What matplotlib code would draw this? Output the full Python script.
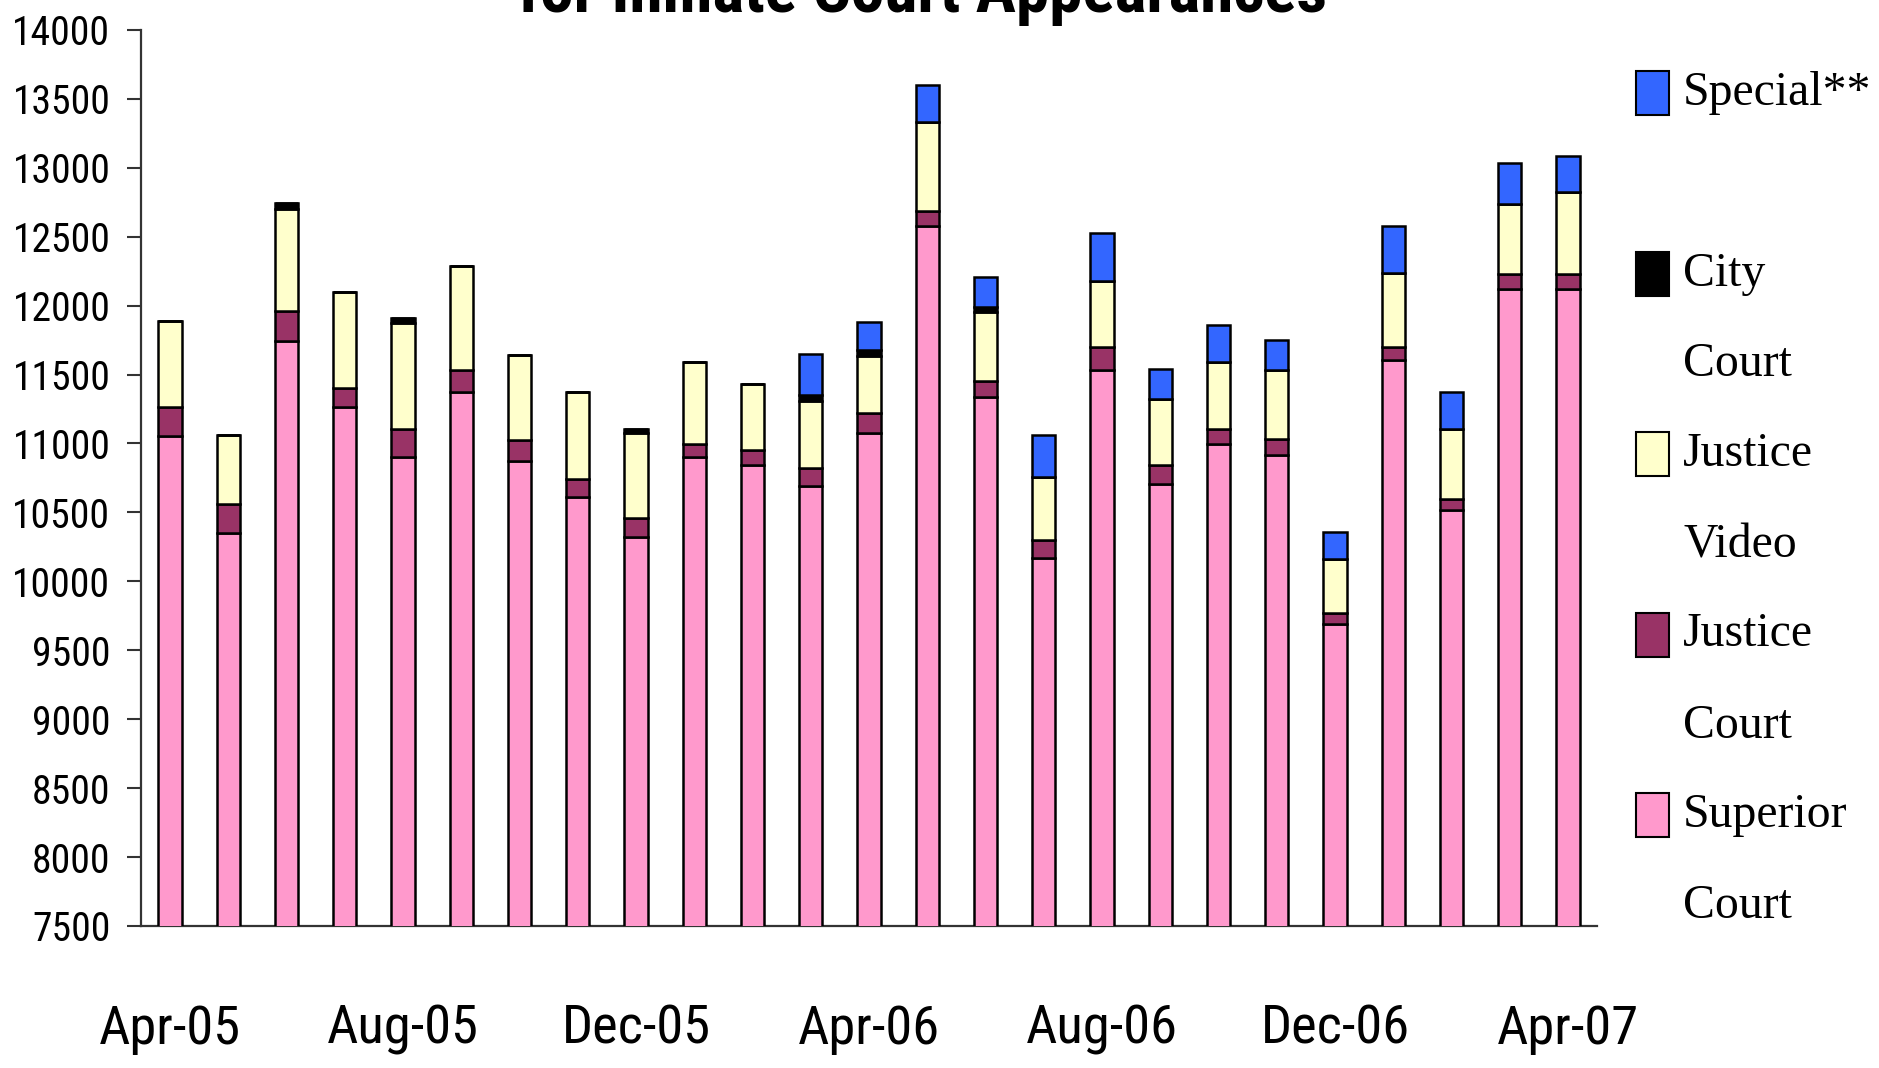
import numpy as np
import matplotlib
matplotlib.use('Agg')
import matplotlib.pyplot as plt
from matplotlib.patches import Rectangle
from matplotlib import font_manager
from matplotlib.font_manager import FontProperties

# Monthly inmate court appearances, Apr-05 .. Apr-07
months = ['Apr-05', 'May-05', 'Jun-05', 'Jul-05', 'Aug-05', 'Sep-05', 'Oct-05',
          'Nov-05', 'Dec-05', 'Jan-06', 'Feb-06', 'Mar-06', 'Apr-06', 'May-06',
          'Jun-06', 'Jul-06', 'Aug-06', 'Sep-06', 'Oct-06', 'Nov-06', 'Dec-06',
          'Jan-07', 'Feb-07', 'Mar-07', 'Apr-07']
superior_court = [11055, 10348, 11745, 11263, 10900, 11372, 10870, 10612, 10319,
                  10900, 10847, 10690, 11075, 12575, 11340, 10169, 11533, 10704,
                  10998, 10914, 9688, 11607, 10518, 12118, 12118]
justice_court = [213, 213, 216, 140, 207, 161, 157, 128, 137, 98, 103, 135, 144,
                 113, 116, 132, 164, 138, 109, 121, 84, 94, 79, 113, 113]
justice_video = [620, 498, 742, 695, 770, 753, 617, 636, 619, 590, 482, 486, 417,
                 645, 498, 457, 481, 477, 481, 498, 392, 532, 510, 505, 590]
city_court = [0, 0, 41, 0, 36, 0, 0, 0, 32, 0, 0, 44, 41, 0, 39, 0, 0, 0, 0, 0,
              0, 0, 0, 0, 0]
special = [0, 0, 0, 0, 0, 0, 0, 0, 0, 0, 0, 293, 207, 270, 214, 301, 349, 221,
           272, 216, 193, 347, 269, 296, 264]

series_colors = ['#FF99CC', '#993366', '#FFFFCC', '#000000', '#3366FF']
legend_labels = ['Special**', 'City\nCourt', 'Justice\nVideo', 'Justice\nCourt', 'Superior\nCourt']
label_months = ['Apr-05', 'Aug-05', 'Dec-05', 'Apr-06', 'Aug-06', 'Dec-06', 'Apr-07']
title_text = 'for Inmate Court Appearances'


def find_narrow_sans(bold=False):
    """Pick a narrow/condensed sans face if one is installed, else Liberation Sans."""
    good = []
    for f in font_manager.fontManager.ttflist:
        if f.style != 'normal':
            continue
        w = f.weight
        is_bold = w in ('bold', 'heavy') or (isinstance(w, int) and w >= 700)
        if is_bold != bold:
            continue
        if isinstance(w, int) and not bold and w not in (400, 500):
            continue
        name = f.name
        narrow = ('Narrow' in name or 'Condensed' in name or
                  str(f.stretch) in ('condensed', 'semi-condensed', 'extra-condensed'))
        if narrow and 'Serif' not in name and 'Mono' not in name and 'CJK' not in name:
            good.append(f)
    order = ['Liberation Sans Narrow', 'Roboto', 'Noto Sans', 'Open Sans', 'DejaVu']

    def rank(f):
        for i, o in enumerate(order):
            if f.name.startswith(o):
                return (i, str(f.stretch) != 'condensed')
        return (len(order), 0)
    if good:
        good.sort(key=rank)
        return FontProperties(fname=good[0].fname)
    return FontProperties(family='Liberation Sans', weight='bold' if bold else 'normal')


fig = plt.figure(figsize=(18.79, 10.68), dpi=100)
renderer = fig.canvas.get_renderer()


def fit_size(prop, text, width_px, height_px):
    # font size that makes the text about as wide (or tall) as in the reference
    p = prop.copy()
    p.set_size(40)
    w, h, d = renderer.get_text_width_height_descent(text, p, ismath=False)
    size = min(40 * width_px / w, 40 * height_px / max(h - d, 1))
    p.set_size(size)
    return p


sans = find_narrow_sans()
sans_bold = find_narrow_sans(bold=True)
serif = FontProperties(family=['Liberation Serif', 'DejaVu Serif'])

ytick_prop = fit_size(sans, '14000', 98, 34)
xtick_prop = fit_size(sans, 'Apr-05', 142, 47)
title_prop = fit_size(sans_bold, title_text, 809, 70)
legend_prop = fit_size(serif, 'Special**', 188, 48)

ax = fig.add_axes([0.075, 0.133, 0.775, 0.839])

x = np.arange(len(months))
bottom = np.zeros(len(months))
for vals, color in zip([superior_court, justice_court, justice_video, city_court, special],
                       series_colors):
    vals = np.array(vals, dtype=float)
    ax.bar(x, vals, 0.4, bottom=bottom, color=color, edgecolor='black',
           linewidth=1.8, zorder=3)
    bottom += vals

ax.set_ylim(7500, 14000)
ax.set_xlim(-0.5, len(months) - 0.5)
ax.set_yticks(np.arange(7500, 14001, 500))
ax.set_yticklabels([str(v) for v in range(7500, 14001, 500)], fontproperties=ytick_prop)

tick_pos = [months.index(m) for m in label_months]
ax.set_xticks(tick_pos)
ax.set_xticklabels(label_months, fontproperties=xtick_prop)
ax.tick_params(axis='x', length=0, pad=56)
ax.tick_params(axis='y', length=10, width=1.5, color='#333333', pad=12)

for side in ['top', 'right']:
    ax.spines[side].set_visible(False)
for side in ['left', 'bottom']:
    ax.spines[side].set_color('#333333')
    ax.spines[side].set_linewidth(1.6)

# title (its first line runs off the top of the picture, as in the source)
fig.text(0.491, 1 - 12 / 1068, title_text, ha='center', va='baseline',
         fontproperties=title_prop)

# legend drawn by hand to keep the wrapped layout
legend_colors = series_colors[::-1]
W, H = 1879.0, 1068.0
line_gap = 91
for i, (lab, col) in enumerate(zip(legend_labels, legend_colors)):
    yc = 93 + i * 180.5
    fig.patches.append(Rectangle((1636 / W, 1 - (yc + 22) / H), 33 / W, 44 / H,
                                 transform=fig.transFigure, facecolor=col,
                                 edgecolor='black', linewidth=1.5))
    for j, part in enumerate(lab.split('\n')):
        fig.text(1683 / W, 1 - (yc + j * line_gap) / H, part, ha='left',
                 va='center', fontproperties=legend_prop)

fig.savefig('out.png', dpi=100)
